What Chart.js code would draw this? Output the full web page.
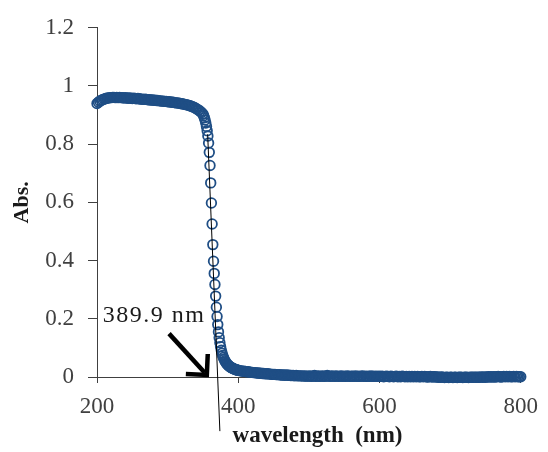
<!DOCTYPE html>
<html lang="en">
<head>
  <meta charset="UTF-8">
  <title>Absorbance spectrum</title>
  <script src="https://cdn.jsdelivr.net/npm/chart.js"></script>
  <style>
    body {
      margin: 0;
      background: #fff;
    }
    canvas {
      display: block;
    }
  </style>
</head>
<body>
  <canvas id="spectrum" width="548" height="452"></canvas>
  <script>
    // wavelength grid of each measured segment (nm)
    const plateauStart = 200, plateauStep = 2;
    const edgeStart = 351, edgeStep = 1;
    const tailStart = 402, tailStep = 2;

    // absorbance
    const plateauAbs = [
      0.940, 0.944, 0.948, 0.951, 0.953, 0.955, 0.957, 0.958, 0.959, 0.960,
      0.960, 0.961, 0.961, 0.960, 0.961, 0.960, 0.961, 0.960, 0.960, 0.959,
      0.960, 0.959, 0.958, 0.959, 0.958, 0.957, 0.958, 0.957, 0.956, 0.957,
      0.956, 0.955, 0.955, 0.954, 0.955, 0.954, 0.953, 0.953, 0.952, 0.952,
      0.951, 0.951, 0.950, 0.950, 0.949, 0.949, 0.948, 0.948, 0.947, 0.947,
      0.946, 0.946, 0.945, 0.944, 0.944, 0.943, 0.942, 0.942, 0.941, 0.940,
      0.939, 0.938, 0.937, 0.936, 0.935, 0.933, 0.932, 0.930, 0.928, 0.926,
      0.923, 0.920, 0.917, 0.913, 0.909, 0.904
    ];
    const edgeAbs = [
      0.898, 0.891, 0.883, 0.873, 0.861, 0.846, 0.828, 0.804, 0.772, 0.727,
      0.667, 0.598, 0.526, 0.455, 0.398, 0.356, 0.318, 0.278, 0.240, 0.208,
      0.180, 0.155, 0.135, 0.118, 0.104, 0.092, 0.082, 0.074, 0.067, 0.061,
      0.056, 0.052, 0.048, 0.045, 0.042, 0.040, 0.038, 0.036, 0.034, 0.033,
      0.031, 0.030, 0.029, 0.028, 0.027, 0.026, 0.025, 0.024, 0.023, 0.023
    ];
    const tailAbs = [
      0.022, 0.021, 0.020, 0.020, 0.019, 0.018, 0.018, 0.017, 0.016, 0.016,
      0.015, 0.015, 0.014, 0.014, 0.013, 0.013, 0.012, 0.012, 0.011, 0.011,
      0.011, 0.010, 0.010, 0.009, 0.009, 0.009, 0.008, 0.008, 0.008, 0.007,
      0.007, 0.007, 0.006, 0.007, 0.006, 0.006, 0.005, 0.005, 0.005, 0.004,
      0.005, 0.004, 0.004, 0.004, 0.004, 0.003, 0.004, 0.003, 0.003, 0.003,
      0.004, 0.002, 0.003, 0.005, 0.002, 0.003, 0.004, 0.002, 0.003, 0.004,
      0.002, 0.003, 0.005, 0.003, 0.002, 0.004, 0.003, 0.002, 0.004, 0.003,
      0.002, 0.003, 0.004, 0.002, 0.003, 0.002, 0.004, 0.003, 0.002, 0.003,
      0.003, 0.002, 0.004, 0.002, 0.003, 0.002, 0.003, 0.004, 0.002, 0.003,
      0.002, 0.003, 0.002, 0.004, 0.002, 0.003, 0.002, 0.003, 0.002, 0.003,
      0.002, 0.003, 0.001, 0.002, 0.003, 0.002, 0.001, 0.003, 0.002, 0.001,
      0.002, 0.003, 0.001, 0.002, 0.001, 0.003, 0.002, 0.001, 0.002, 0.001,
      0.002, 0.001, 0.002, 0.001, 0.002, 0.001, 0.002, 0.001, 0.001, 0.002,
      0.001, 0.002, 0.001, 0.000, 0.001, 0.002, 0.000, 0.001, 0.001, 0.000,
      0.000, -0.001, -0.001, 0.000, -0.001, -0.002, -0.001, -0.001, -0.002, -0.001,
      -0.001, -0.002, -0.001, -0.001, -0.002, -0.001, -0.001, -0.001, -0.002, -0.001,
      -0.001, -0.001, -0.002, -0.001, -0.001, -0.001, -0.001, -0.001, -0.001, -0.001,
      -0.001, 0.000, -0.001, 0.000, -0.001, 0.000, 0.001, 0.000, 0.001, 0.000,
      0.001, 0.000, 0.001, 0.002, 0.001, 0.000, 0.001, 0.002, 0.001, 0.002,
      0.001, 0.002, 0.001, 0.001, 0.002, 0.001, 0.002, 0.001, 0.001, 0.001
    ];

    // tangent drawn through the absorption edge
    const tangentX = [356.7, 374.0];
    const tangentY = [0.834, -0.186];

    // annotation: label and arrow, in data units
    const edgeLabel = '389.9 nm';
    const labelAt = { x: 208, y: 0.19 };
    const arrowFrom = { x: 302, y: 0.149 };
    const arrowTo = { x: 355.5, y: 0.007 };

    const xTicks = [200, 400, 600, 800];
    const yTicks = [0, 0.2, 0.4, 0.6, 0.8, 1, 1.2];

    const blue = '#1f4e85';
    const axisColor = '#404040';
    const serif = "'Liberation Serif', 'Times New Roman', serif";

    function toPoints(start, step, values) {
      return values.map((v, i) => ({ x: start + i * step, y: v }));
    }

    const spectrum = [
      ...toPoints(plateauStart, plateauStep, plateauAbs),
      ...toPoints(edgeStart, edgeStep, edgeAbs),
      ...toPoints(tailStart, tailStep, tailAbs)
    ];
    const tangent = tangentX.map((x, i) => ({ x: x, y: tangentY[i] }));

    const annotate = {
      id: 'annotate',
      afterDatasetsDraw(chart) {
        const { ctx, scales: { x, y } } = chart;
        ctx.save();
        // label
        ctx.fillStyle = '#1a1a1a';
        ctx.font = '24px ' + serif;
        ctx.letterSpacing = '1.5px';
        ctx.textAlign = 'left';
        ctx.textBaseline = 'alphabetic';
        ctx.fillText(edgeLabel, x.getPixelForValue(labelAt.x), y.getPixelForValue(labelAt.y));
        ctx.letterSpacing = '0px';
        // arrow
        const x0 = x.getPixelForValue(arrowFrom.x), y0 = y.getPixelForValue(arrowFrom.y);
        const x1 = x.getPixelForValue(arrowTo.x), y1 = y.getPixelForValue(arrowTo.y);
        const ang = Math.atan2(y1 - y0, x1 - x0);
        const head = 21;
        ctx.strokeStyle = '#000';
        ctx.lineWidth = 4.5;
        ctx.lineCap = 'butt';
        ctx.beginPath();
        ctx.moveTo(x0, y0);
        ctx.lineTo(x1 - 3 * Math.cos(ang), y1 - 3 * Math.sin(ang));
        ctx.stroke();
        ctx.lineJoin = 'miter';
        ctx.beginPath();
        ctx.moveTo(x1 - head * Math.cos(ang - Math.PI / 4), y1 - head * Math.sin(ang - Math.PI / 4));
        ctx.lineTo(x1, y1);
        ctx.lineTo(x1 - head * Math.cos(ang + Math.PI / 4), y1 - head * Math.sin(ang + Math.PI / 4));
        ctx.stroke();
        ctx.restore();
      }
    };

    new Chart(document.getElementById('spectrum'), {
      type: 'scatter',
      data: {
        datasets: [
          {
            label: 'tangent',
            data: tangent,
            showLine: true,
            borderColor: '#000',
            borderWidth: 1,
            pointRadius: 0,
            clip: false
          },
          {
            label: 'Abs.',
            data: spectrum,
            showLine: false,
            pointStyle: 'circle',
            pointRadius: 4.8,
            pointBorderWidth: 1.8,
            pointBorderColor: blue,
            pointBackgroundColor: 'rgba(255,255,255,0)',
            clip: false
          }
        ]
      },
      options: {
        responsive: false,
        animation: false,
        devicePixelRatio: 1,
        layout: { padding: { top: 22, right: 21, left: 0, bottom: 0 } },
        plugins: {
          legend: { display: false },
          tooltip: { enabled: false }
        },
        scales: {
          x: {
            type: 'linear',
            min: 200,
            max: 800,
            afterBuildTicks: s => { s.ticks = xTicks.map(v => ({ value: v })); },
            afterFit: s => { s.height = 75; },
            grid: { drawOnChartArea: false, tickLength: 6, color: axisColor },
            border: { color: axisColor, width: 1 },
            ticks: { color: axisColor, padding: 10, font: { family: serif, size: 23 }, callback: v => String(v) },
            title: {
              display: true,
              text: '\u00a0\u00a0\u00a0wavelength  (nm)',
              color: '#1a1a1a',
              padding: { top: 0, bottom: 2 },
              font: { family: serif, size: 23, weight: 'bold' }
            }
          },
          y: {
            min: 0,
            max: 1.2,
            afterBuildTicks: s => { s.ticks = yTicks.map(v => ({ value: v })); },
            afterFit: s => { s.width = 97; },
            grid: { drawOnChartArea: false, tickLength: 9, color: axisColor },
            border: { color: axisColor, width: 1 },
            ticks: { color: axisColor, padding: 14, font: { family: serif, size: 23 }, callback: v => String(v) },
            title: {
              display: true,
              text: 'Abs.',
              color: '#1a1a1a',
              padding: { top: 9, bottom: 0 },
              font: { family: serif, size: 22, weight: 'bold' }
            }
          }
        }
      },
      plugins: [annotate]
    });
  </script>
</body>
</html>
